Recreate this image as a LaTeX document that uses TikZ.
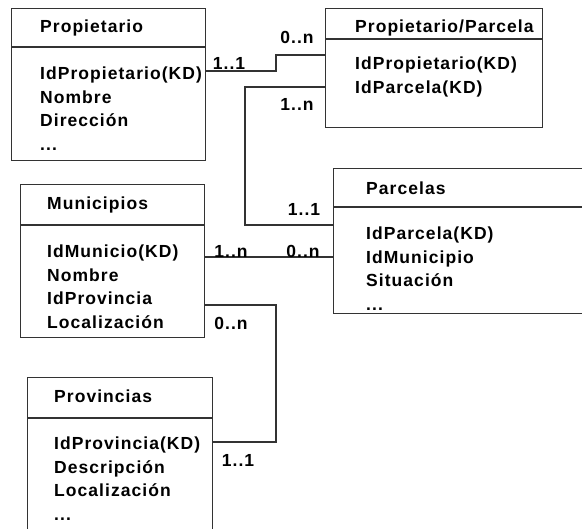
\documentclass[tikz,border=0pt]{standalone}
\usepackage{fontspec}
\setmainfont{Liberation Sans}
\newfontfamily\erfamily[LetterSpace=6]{Liberation Sans}
\newcommand{\erfont}{\erfamily\bfseries\fontsize{17.5}{23.5}\selectfont}
\usepackage{tikz}
\usetikzlibrary{positioning}

\tikzset{
  entity/.style={rectangle, draw=black!80, line width=1.2pt, anchor=north west, inner sep=0pt},
  heading/.style={inner sep=0pt, font=\erfont},
  fields/.style={inner sep=0pt, align=left, font=\erfont},
  mult/.style={inner sep=0pt, font=\erfont},
  link/.style={draw=black!80, line width=1.2pt}
}

\begin{document}
\begin{tikzpicture}[x=1pt, y=-1pt]
\useasboundingbox (0,0) rectangle (582,529);
\clip (0,0) rectangle (582,529);

% tables
\node[entity, minimum width=194pt, minimum height=152pt] (prop) at (11,8) {};
\node[heading, below right=12pt and 29pt of prop.north west] (prop_title) {Propietario};
\node[fields, below right=59pt and 29pt of prop.north west] (prop_fields) {IdPropietario(KD)\\Nombre\\Dirección\\...};
\draw[link] ([yshift=-39pt]prop.north west) -- ([yshift=-39pt]prop.north east);

\node[entity, minimum width=217pt, minimum height=119pt] (propparc) at (325,8) {};
\node[heading, below right=12pt and 30pt of propparc.north west] (propparc_title) {Propietario/Parcela};
\node[fields, below right=49pt and 30pt of propparc.north west] (propparc_fields) {IdPropietario(KD)\\IdParcela(KD)};
\draw[link] ([yshift=-31pt]propparc.north west) -- ([yshift=-31pt]propparc.north east);

\node[entity, minimum width=270pt, minimum height=145pt] (parc) at (333,168) {};
\node[heading, below right=14pt and 33pt of parc.north west] (parc_title) {Parcelas};
\node[fields, below right=59pt and 33pt of parc.north west] (parc_fields) {IdParcela(KD)\\IdMunicipio\\Situación\\...};
\draw[link] ([yshift=-39pt]parc.north west) -- ([yshift=-39pt]parc.north east);

\node[entity, minimum width=184pt, minimum height=153pt] (mun) at (20,184) {};
\node[heading, below right=13pt and 27pt of mun.north west] (mun_title) {Municipios};
\node[fields, below right=61pt and 27pt of mun.north west] (mun_fields) {IdMunicio(KD)\\Nombre\\IdProvincia\\Localización};
\draw[link] ([yshift=-41pt]mun.north west) -- ([yshift=-41pt]mun.north east);

\node[entity, minimum width=185pt, minimum height=170pt] (prov) at (27,377) {};
\node[heading, below right=13pt and 27pt of prov.north west] (prov_title) {Provincias};
\node[fields, below right=60pt and 27pt of prov.north west] (prov_fields) {IdProvincia(KD)\\Descripción\\Localización\\...};
\draw[link] ([yshift=-41pt]prov.north west) -- ([yshift=-41pt]prov.north east);

% relations
\draw[link] (prop.east |- 0,71) -| (276,55) -- (propparc.west |- 0,55);
\draw[link] (propparc.west |- 0,87) -| (245,225) -- (parc.west |- 0,225);
\draw[link] (mun.east |- 0,257) -- (parc.west |- 0,257);
\draw[link] (mun.east |- 0,305) -| (276,442) -- (prov.east |- 0,442);

\node[mult] (m_prop) at (229,63) {1..1};
\node[mult] (m_propparc1) at (297,37) {0..n};
\node[mult] (m_propparc2) at (297,104) {1..n};
\node[mult] (m_parc1) at (304,209) {1..1};
\node[mult] (m_mun1) at (231,251) {1..n};
\node[mult] (m_parc2) at (303,251) {0..n};
\node[mult] (m_mun2) at (231,323) {0..n};
\node[mult] (m_prov) at (238,460) {1..1};
\end{tikzpicture}
\end{document}
